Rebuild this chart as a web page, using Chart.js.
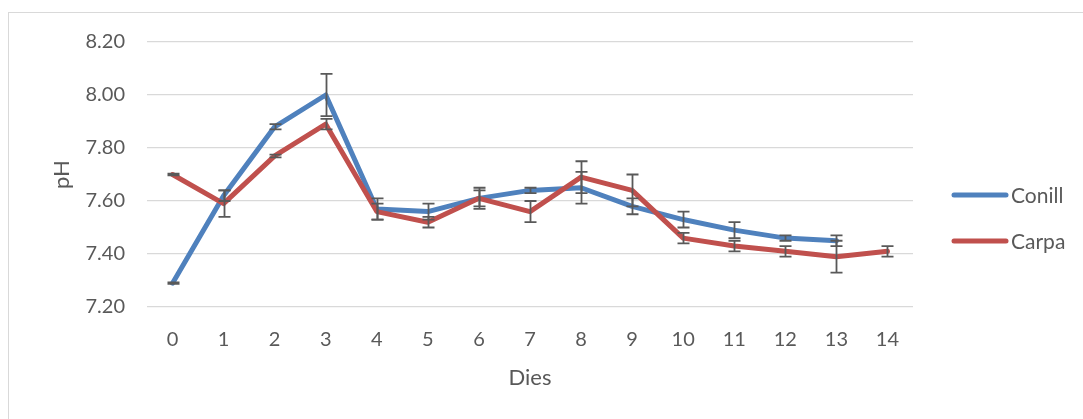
<!DOCTYPE html>
<html>
<head>
<meta charset="utf-8">
<script src="https://cdn.jsdelivr.net/npm/chart.js@4"></script>
<style>
  body { margin: 0; background: #fff; }
  #wrap { width: 1083px; height: 419px; position: relative; }
</style>
</head>
<body>
<div id="wrap"><canvas id="myChart"></canvas></div>
<script>
const days = ['0', '1', '2', '3', '4', '5', '6', '7', '8', '9', '10', '11', '12', '13', '14'];
const seriesNames = ['Conill', 'Carpa'];
const conill = [7.29, 7.62, 7.88, 8.00, 7.57, 7.56, 7.61, 7.64, 7.65, 7.58, 7.53, 7.49, 7.46, 7.45, null];
const conillErr = [0.003, 0.02, 0.01, 0.08, 0.04, 0.03, 0.04, 0.01, 0.06, 0.03, 0.03, 0.03, 0.01, 0.02, null];
const carpa = [7.70, 7.59, 7.77, 7.89, 7.56, 7.52, 7.61, 7.56, 7.69, 7.64, 7.46, 7.43, 7.41, 7.39, 7.41];
const carpaErr = [0.003, 0.05, 0.005, 0.02, 0.03, 0.02, 0.03, 0.04, 0.06, 0.06, 0.02, 0.02, 0.02, 0.06, 0.02];
const yTicks = [7.2, 7.4, 7.6, 7.8, 8.0, 8.2];

const textColor = '#595959';
const fontFamily = 'Lato, sans-serif';

// error bars + legend + outer frame drawn by hand
const extras = {
  id: 'extras',
  beforeDraw(chart) {
    const ctx = chart.ctx;
    ctx.save();
    ctx.strokeStyle = '#d9d9d9';
    ctx.lineWidth = 1;
    ctx.strokeRect(8.5, 12.5, 1100, 420);
    ctx.restore();
  },
  afterDatasetsDraw(chart) {
    const ctx = chart.ctx;
    const x = chart.scales.x;
    const y = chart.scales.y;
    ctx.save();
    ctx.strokeStyle = '#595959';
    ctx.lineWidth = 1.8;
    chart.data.datasets.forEach(ds => {
      ds.data.forEach((v, i) => {
        const e = ds.errors[i];
        if (v == null || e == null) return;
        const px = Math.round(x.getPixelForValue(i)) + 0.5;
        const top = y.getPixelForValue(v + e);
        const bot = y.getPixelForValue(v - e);
        ctx.beginPath();
        ctx.moveTo(px, top);
        ctx.lineTo(px, bot);
        ctx.moveTo(px - 6, top);
        ctx.lineTo(px + 6, top);
        ctx.moveTo(px - 6, bot);
        ctx.lineTo(px + 6, bot);
        ctx.stroke();
      });
    });
    ctx.restore();
  },
  afterDraw(chart) {
    const ctx = chart.ctx;
    ctx.save();
    ctx.font = '21px ' + fontFamily;
    ctx.textBaseline = 'middle';
    ctx.lineCap = 'round';
    ctx.lineWidth = 5;
    chart.data.datasets.forEach((ds, i) => {
      const ly = 195 + i * 46;
      ctx.strokeStyle = ds.borderColor;
      ctx.beginPath();
      ctx.moveTo(954, ly);
      ctx.lineTo(1006, ly);
      ctx.stroke();
      ctx.fillStyle = textColor;
      ctx.fillText(ds.label, 1011, ly + 1);
    });
    ctx.restore();
  }
};

const data = {
  labels: days,
  datasets: [
    {
      label: seriesNames[0],
      data: conill,
      errors: conillErr,
      borderColor: '#4f81bd',
      backgroundColor: '#4f81bd',
      borderWidth: 5,
      pointRadius: 0,
      borderCapStyle: 'round',
      borderJoinStyle: 'round',
      order: 1,
    },
    {
      label: seriesNames[1],
      data: carpa,
      errors: carpaErr,
      borderColor: '#c0504d',
      backgroundColor: '#c0504d',
      borderWidth: 5,
      pointRadius: 0,
      borderCapStyle: 'round',
      borderJoinStyle: 'round',
      order: 0,
    },
  ],
};

const config = {
  type: 'line',
  data: data,
  plugins: [extras],
  options: {
    responsive: true,
    maintainAspectRatio: false,
    animation: false,
    layout: { padding: { top: 42, right: 170, left: 0, bottom: 0 } },
    plugins: {
      legend: { display: false },
      tooltip: { enabled: false },
    },
    scales: {
      x: {
        offset: true,
        grid: { display: false, drawTicks: false },
        border: { display: false },
        ticks: { color: textColor, font: { family: fontFamily, size: 20 }, padding: 21, maxRotation: 0 },
        title: { display: true, text: 'Dies', color: textColor, font: { family: fontFamily, size: 22 }, padding: { top: 0, bottom: 28 } },
        afterFit(scale) { scale.height = 112; },
      },
      y: {
        min: 7.2,
        max: 8.2,
        afterBuildTicks(scale) { scale.ticks = yTicks.map(v => ({ value: v })); },
        grid: { color: '#d9d9d9', lineWidth: 1.3, drawTicks: false },
        border: { display: false },
        ticks: {
          color: textColor,
          font: { family: fontFamily, size: 20 },
          padding: 22,
          callback: v => v.toFixed(2),
        },
        title: { display: true, text: 'pH', color: textColor, font: { family: fontFamily, size: 22 }, padding: { top: 49, bottom: 0 } },
        afterFit(scale) { scale.width = 147; },
      },
    },
  },
};

var myChart = new Chart(document.getElementById('myChart'), config);
</script>
</body>
</html>
